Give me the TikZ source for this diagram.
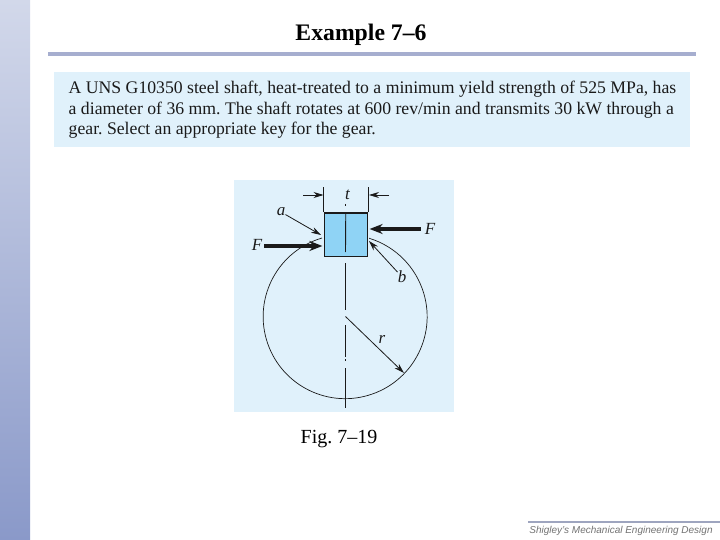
\documentclass[tikz,border=0pt]{standalone}
\usepackage{fontspec}
\setmainfont{Liberation Serif}
\setsansfont{Liberation Sans}
\usetikzlibrary{arrows.meta}
\frenchspacing
\definecolor{panelblue}{HTML}{E0F1FB}
\definecolor{keyblue}{HTML}{8FD3F5}
\definecolor{rulegray}{HTML}{A6AECF}
\definecolor{inkdark}{HTML}{1A1A1A}
\definecolor{bandtop}{HTML}{D2D8EA}
\definecolor{bandbottom}{HTML}{8A99C9}
\tikzset{
  lbl/.style={font=\fontsize{17}{17}\selectfont\itshape, inner sep=0pt, text=inkdark},
  thin arrow/.style={draw=inkdark, line width=0.8pt, -{Stealth[length=10pt, width=6pt]}},
  force arrow/.style={draw=inkdark, line width=4pt, -{Stealth[length=13pt, width=10pt]}},
  centre line/.style={draw=inkdark, line width=0.9pt},
}
\begin{document}
\begin{tikzpicture}[x=1pt, y=1pt]
  \useasboundingbox (0,0) rectangle (720,-540);
  \fill[white] (0,0) rectangle (720,-540);
  % side band and header
  \shade[top color=bandtop, bottom color=bandbottom] (0,0) rectangle (30,-540);
  \fill[rulegray] (48,-52) rectangle (696,-56);
  \node[font=\fontsize{23.7}{24}\selectfont\bfseries, inner sep=0pt] (title) at (361,-35) {Example 7--6};

  % problem statement
  \fill[panelblue] (54,-72) rectangle (690,-147);
  \node[anchor=north west, inner sep=0pt, align=left, text=inkdark, font=\fontsize{17.7}{20.6}\selectfont] (statement) at (68.5,-81)
    {A UNS G10350 steel shaft, heat-treated to a minimum yield strength of 525 MPa, has\\
     a diameter of 36 mm. The shaft rotates at 600 rev/min and transmits 30 kW through a\\
     gear. Select an appropriate key for the gear.};

  % figure
  \fill[panelblue] (234,-180) rectangle (454,-412);
  \node[draw=inkdark, line width=1.5pt, fill=keyblue, minimum size=43pt, inner sep=0pt] (key) at (345.75,-234.75) {};
  \coordinate (shaft) at (345.5,-316.5);
  \coordinate (rim) at (404,-373);

  \draw[inkdark, line width=0.7pt] (322,-238) arc[start angle=106.4, end angle=433, radius=82];

  % centre line, broken
  \draw[centre line] (345.5,-204) -- (345.5,-206);
  \draw[centre line] (key.north) -- (345.5,-252);
  \draw[centre line] (345.5,-263) -- (345.5,-310);
  \draw[centre line] (345.5,-325) -- (345.5,-357);
  \draw[centre line] (345.5,-359) -- (345.5,-361);
  \draw[centre line] (345.5,-368) -- (345.5,-408);

  % width t
  \coordinate (tleft) at (key.north west);
  \coordinate (tright) at (key.north east);
  \draw[inkdark, line width=0.8pt] (tleft) -- ++(0,25);
  \draw[inkdark, line width=0.8pt] (tright) -- ++(0,25);
  \node[lbl] (t) at (347.5,-195) {t};
  \coordinate (tla) at (303,-195);
  \coordinate (tlb) at (323.5,-195);
  \coordinate (tra) at (389,-195);
  \coordinate (trb) at (369,-195);
  \draw[thin arrow] (tla) -- (tlb);
  \draw[thin arrow] (tra) -- (trb);

  % forces
  \node[lbl] (Fleft) at (257,-245) {F};
  \node[lbl] (Fright) at (430,-229) {F};
  \draw[force arrow] (Fleft.east) ++(2,-1) -- ++(58,0);
  \draw[force arrow] (Fright.west) ++(-4,0) -- ++(-51,0);

  % labels a, b, r
  \node[lbl] (a) at (281,-212) {a};
  \node[lbl] (b) at (402,-277) {b};
  \node[lbl] (r) at (382,-339) {r};
  \coordinate (aend) at (321,-235);
  \coordinate (bend) at (369,-241);
  \draw[thin arrow] (a) -- (aend);
  \draw[thin arrow] (b) -- (bend);
  \draw[thin arrow] (shaft) -- (rim);

  \node[font=\fontsize{20}{20}\selectfont, inner sep=0pt] (caption) at (339,-439) {Fig. 7--19};

  % footer
  \fill[rulegray!80!gray] (528,-521) rectangle (720,-523);
  \node[font=\sffamily\itshape\fontsize{10}{10}\selectfont, text=black!55, inner sep=0pt] (footer) at (621,-531) {Shigley's Mechanical Engineering Design};
\end{tikzpicture}
\end{document}
